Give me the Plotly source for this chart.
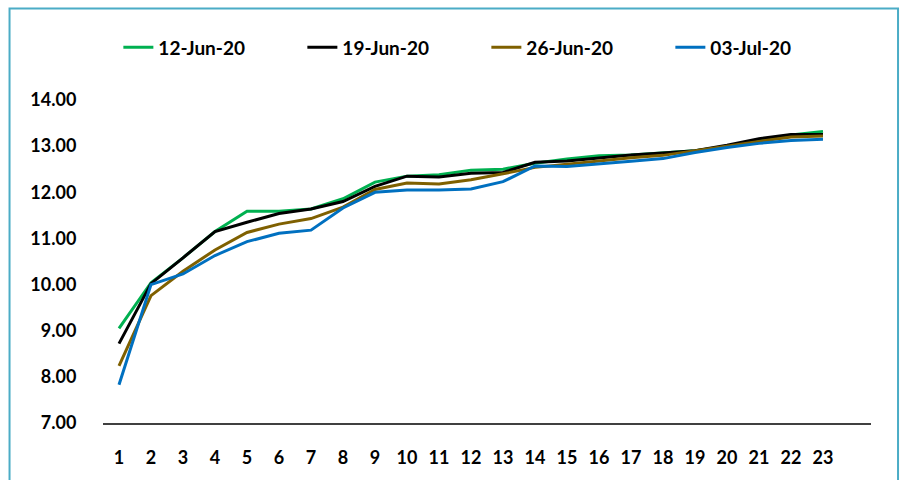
import plotly.graph_objects as go

maturity = list(range(1, 24))
series_names = ["12-Jun-20", "19-Jun-20", "26-Jun-20", "03-Jul-20"]
jun12 = [9.05, 10.04, 10.58, 11.15, 11.59, 11.59, 11.64, 11.86, 12.22, 12.35, 12.38, 12.48,
         12.50, 12.63, 12.72, 12.79, 12.81, 12.85, 12.90, 12.99, 13.13, 13.24, 13.32]
jun19 = [8.72, 10.02, 10.58, 11.15, 11.35, 11.54, 11.64, 11.80, 12.13, 12.35, 12.33, 12.41,
         12.43, 12.65, 12.68, 12.75, 12.81, 12.85, 12.90, 13.02, 13.16, 13.25, 13.25]
jun26 = [8.24, 9.76, 10.29, 10.75, 11.13, 11.31, 11.43, 11.68, 12.06, 12.20, 12.18, 12.27,
         12.40, 12.54, 12.61, 12.68, 12.75, 12.80, 12.90, 12.99, 13.09, 13.20, 13.22]
jul03 = [7.83, 10.00, 10.23, 10.63, 10.93, 11.11, 11.18, 11.66, 12.00, 12.05, 12.05, 12.07,
         12.23, 12.57, 12.56, 12.61, 12.67, 12.73, 12.86, 12.97, 13.06, 13.12, 13.15]
colors = ["#00B050", "#000000", "#7F6000", "#0070C0"]
y_ticks = [7, 8, 9, 10, 11, 12, 13, 14]

FONT = "Lato"
fig = go.Figure()
for name, vals, c in zip(series_names, [jun12, jun19, jun26, jul03], colors):
    fig.add_trace(go.Scatter(x=maturity, y=vals, name=name, mode="lines",
                             line=dict(color=c, width=3)))

fig.update_layout(
    width=903, height=480,
    margin=dict(l=103, r=32, t=100, b=53),
    paper_bgcolor="white", plot_bgcolor="white",
    font=dict(family=FONT, size=18, color="#000000"),
    showlegend=True,
    legend=dict(orientation="h", x=0.02, xanchor="left", y=1.163, yanchor="middle",
                font=dict(family=FONT, size=19, color="#000000", weight="bold"),
                entrywidth=139, entrywidthmode="pixels", tracegroupgap=0),
    xaxis=dict(range=[0.5, 24.5], tickvals=maturity, ticktext=[str(m) for m in maturity],
               showgrid=False, zeroline=False, showline=True, linecolor="#404040", linewidth=1.5,
               ticks="outside", ticklen=18, tickcolor="rgba(0,0,0,0)",
               tickfont=dict(family=FONT, size=18, weight="bold")),
    yaxis=dict(range=[7, 14], tickvals=y_ticks, ticktext=[f"{v:.2f}" for v in y_ticks],
               showgrid=False, zeroline=False, showline=False,
               ticks="outside", ticklen=22, tickcolor="rgba(0,0,0,0)",
               tickfont=dict(family=FONT, size=18, weight="bold")),
    shapes=[dict(type="rect", xref="paper", yref="paper",
                 x0=-0.1217, x1=1.0352, y0=-0.2, y1=1.2829,
                 line=dict(color="#4BACC6", width=2), fillcolor="rgba(0,0,0,0)", layer="below")],
)

fig.write_html("out.html")
